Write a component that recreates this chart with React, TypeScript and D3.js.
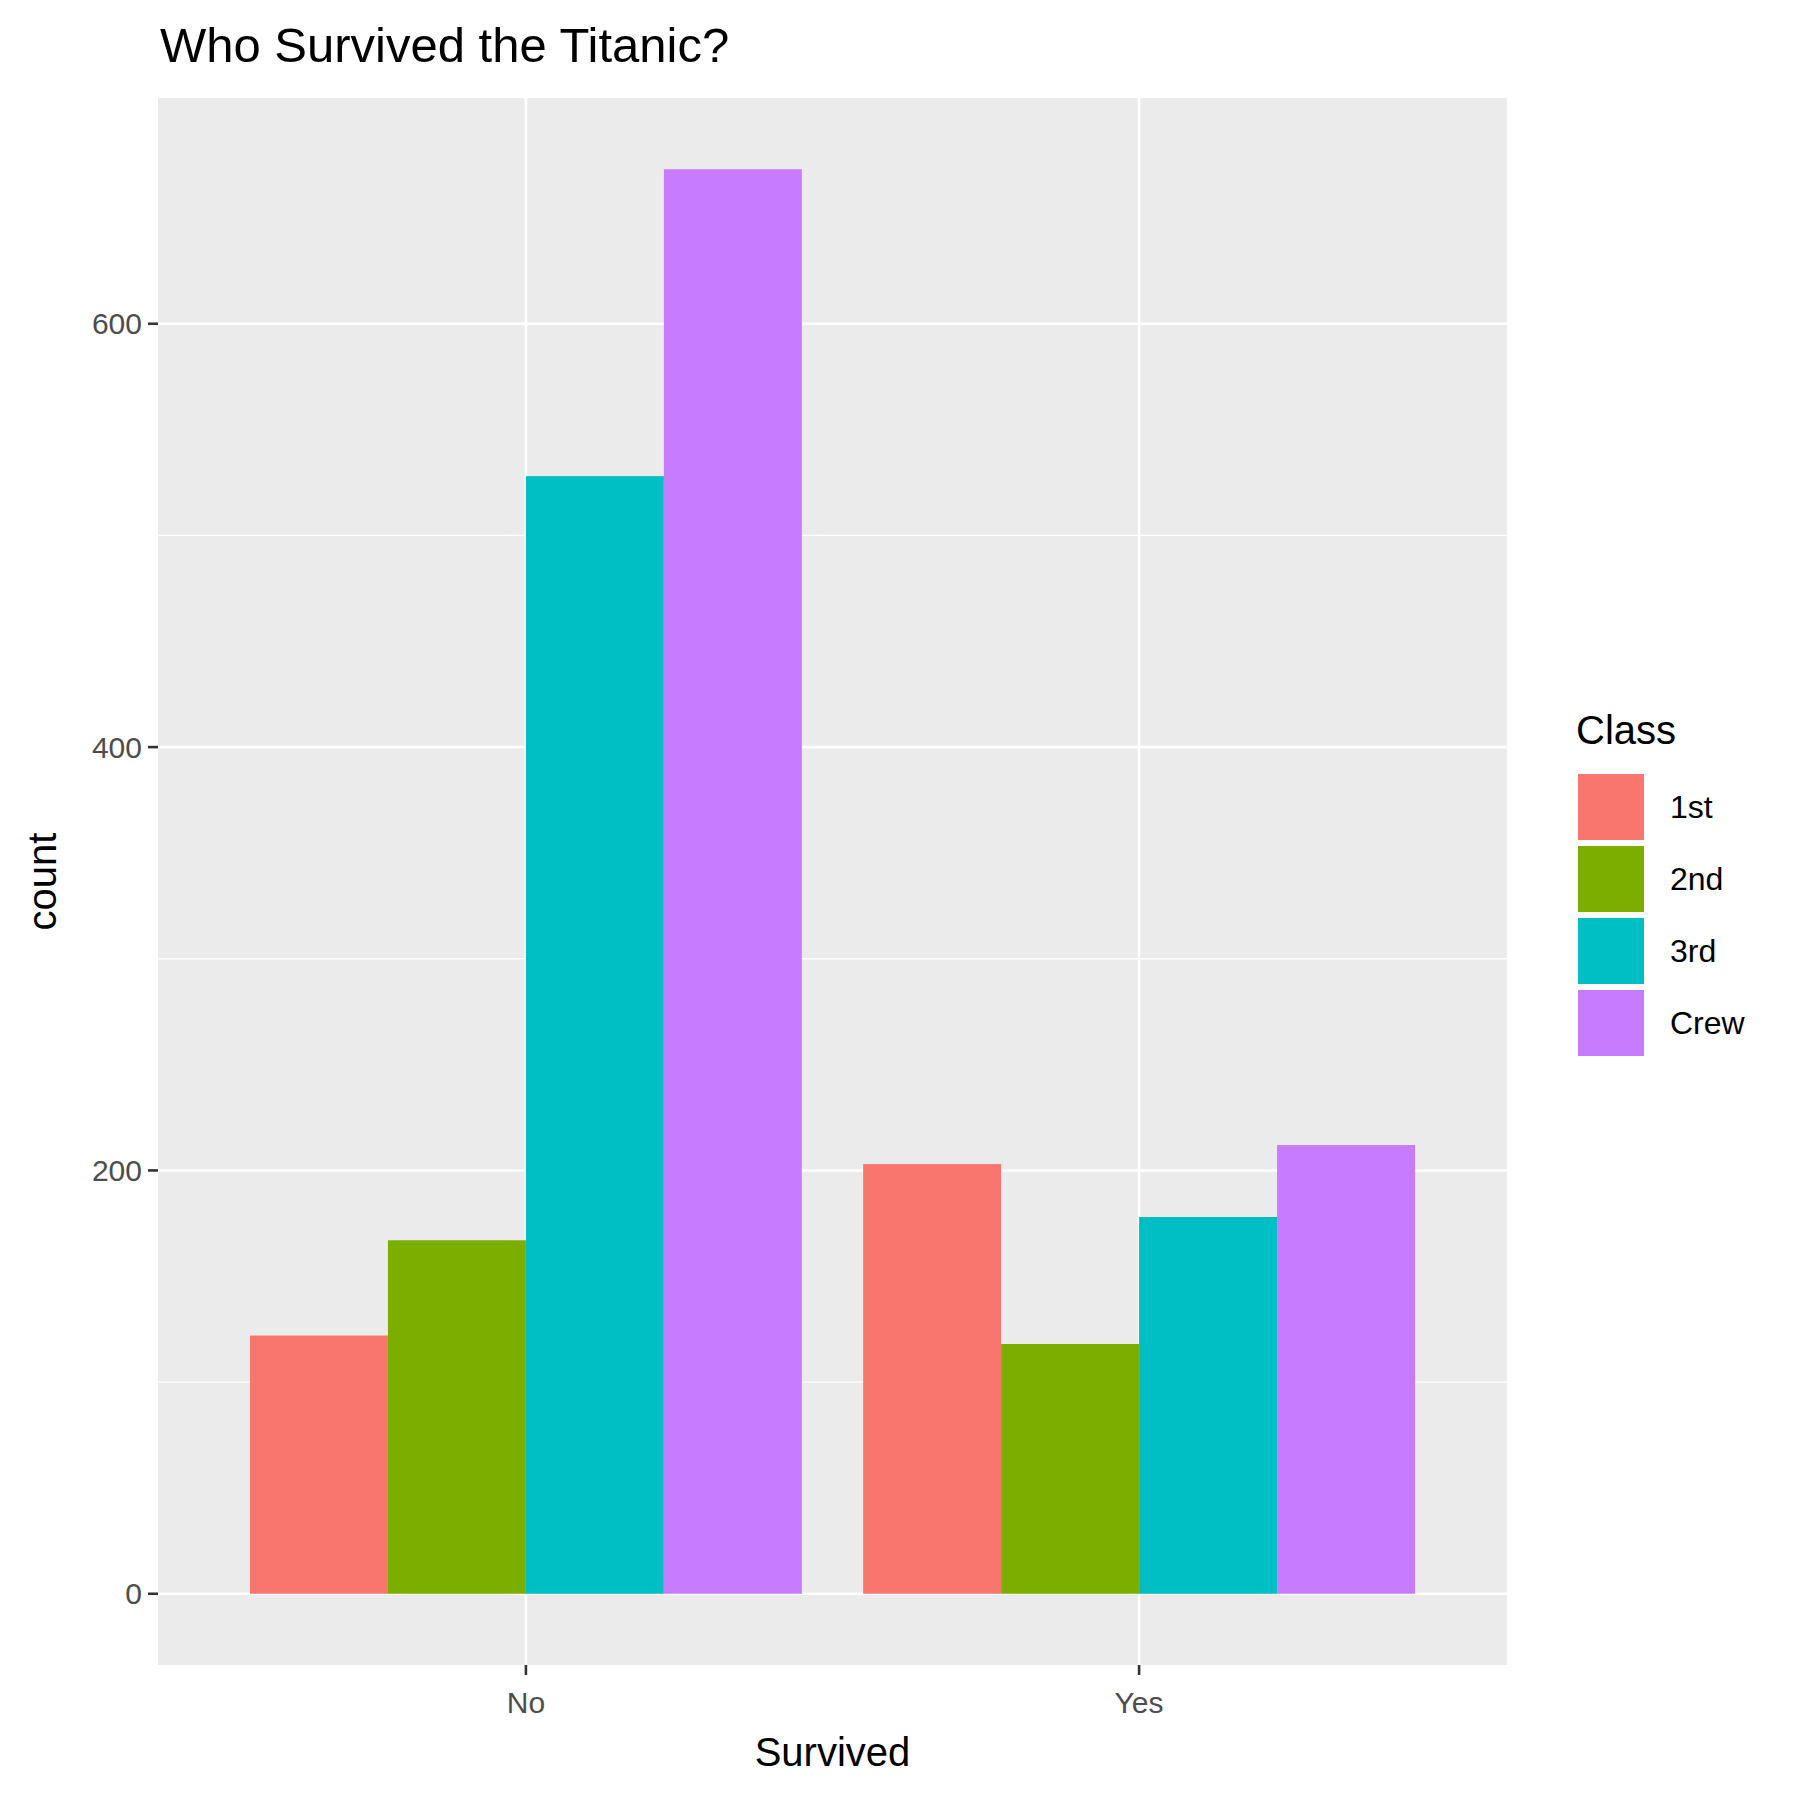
import React from "react";
import * as d3 from "d3";

const survived = ["No", "Yes"];
const classes = ["1st", "2nd", "3rd", "Crew"];
const colors = ["#F8766D", "#7CAE00", "#00BFC4", "#C77CFF"];
const counts: Record<string, number[]> = { No: [122, 167, 528, 673], Yes: [203, 118, 178, 212] };
const majorTicks = [0, 200, 400, 600];
const minorTicks = [100, 300, 500];

export default function App() {
  const L = 158, R = 1507, T = 98, B = 1665;
  const maxV = 673;
  const y = d3.scaleLinear().domain([-0.05 * maxV, maxV * 1.05]).range([B, T]);
  const x = d3.scaleLinear().domain([0.4, 2.6]).range([L, R]);
  const font = "Liberation Sans, Arial, sans-serif";
  const bw = 0.9 / 4;
  return (
    <svg width={1800} height={1800} style={{ display: "block", position: "absolute", left: 0, top: 0 }} fontFamily={font}>
      <rect width={1800} height={1800} fill="#fff" />
      <rect x={L} y={T} width={R - L} height={B - T} fill="#EBEBEB" />
      {minorTicks.map(t => <line key={"m" + t} x1={L} x2={R} y1={y(t)} y2={y(t)} stroke="#fff" strokeWidth={1.3} />)}
      {majorTicks.map(t => <line key={"M" + t} x1={L} x2={R} y1={y(t)} y2={y(t)} stroke="#fff" strokeWidth={2.6} />)}
      {survived.map((s, i) => <line key={s} x1={x(i + 1)} x2={x(i + 1)} y1={T} y2={B} stroke="#fff" strokeWidth={2.6} />)}
      {survived.map((s, i) =>
        counts[s].map((v, j) => {
          const x0 = x(i + 1 - 0.45 + j * bw);
          const x1 = x(i + 1 - 0.45 + (j + 1) * bw);
          return <rect key={s + j} x={x0} width={x1 - x0} y={y(v)} height={y(0) - y(v)} fill={colors[j]} />;
        })
      )}
      {majorTicks.map(t => (
        <g key={"t" + t}>
          <line x1={L - 10} x2={L} y1={y(t)} y2={y(t)} stroke="#333" strokeWidth={2.6} />
          <text x={L - 16} y={y(t)} dy="0.35em" textAnchor="end" fontSize={30} fill="#4D4D4D">{t}</text>
        </g>
      ))}
      {survived.map((s, i) => (
        <g key={"x" + s}>
          <line x1={x(i + 1)} x2={x(i + 1)} y1={B} y2={B + 10} stroke="#333" strokeWidth={2.6} />
          <text x={x(i + 1)} y={1713} textAnchor="middle" fontSize={30} fill="#4D4D4D">{s}</text>
        </g>
      ))}
      <text x={(L + R) / 2} y={1766} textAnchor="middle" fontSize={40}>Survived</text>
      <text transform={`translate(56,${(T + B) / 2}) rotate(-90)`} textAnchor="middle" fontSize={40}>count</text>
      <text x={160} y={62} fontSize={49}>Who Survived the Titanic?</text>
      <text x={1576} y={744} fontSize={40}>Class</text>
      {classes.map((c, j) => (
        <g key={c}>
          <rect x={1578} y={774 + j * 72} width={66} height={66} fill={colors[j]} />
          <text x={1670} y={774 + j * 72 + 33} dy="0.35em" fontSize={32}>{c}</text>
        </g>
      ))}
    </svg>
  );
}
